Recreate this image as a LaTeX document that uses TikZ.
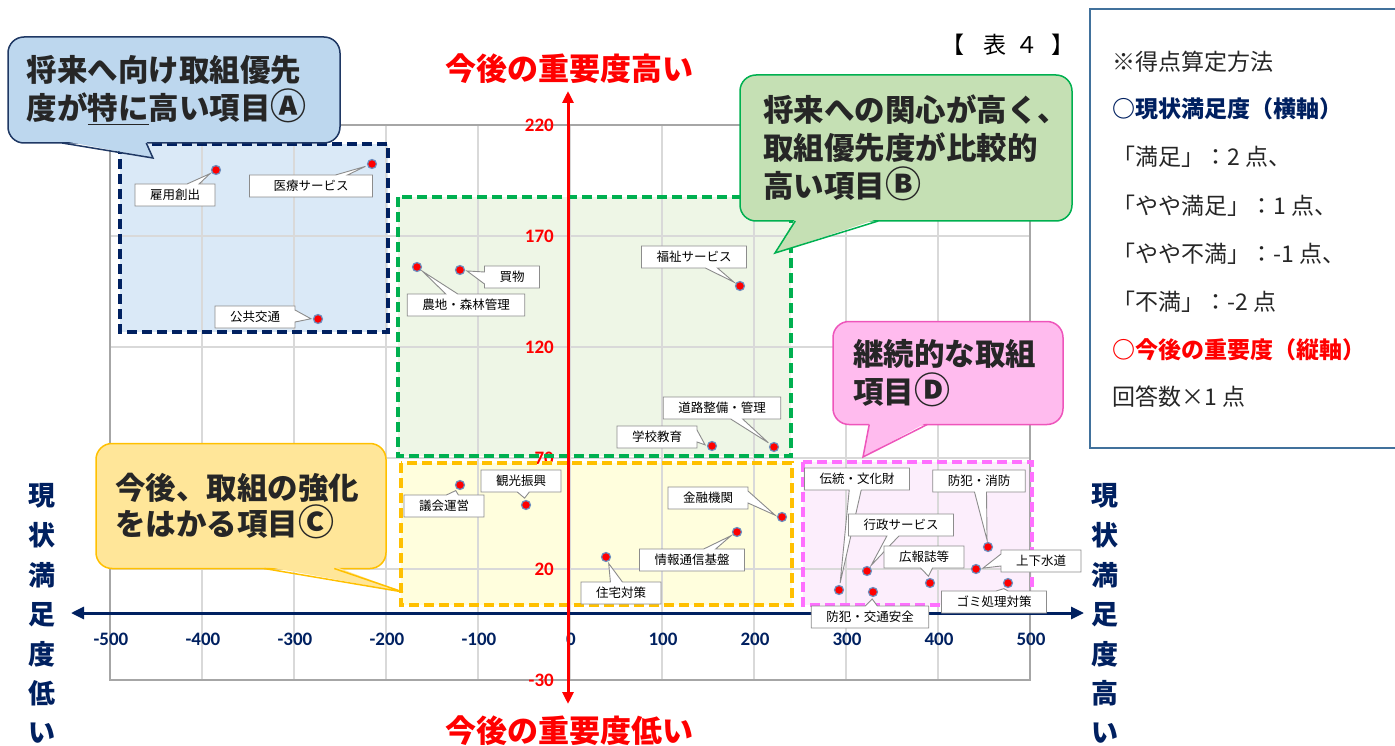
\documentclass[tikz,border=0pt]{standalone}
\usepackage{fontspec}
\setmainfont{Noto Sans CJK JP}
\newfontfamily\numfont{Carlito}
\usetikzlibrary{arrows.meta,shapes.callouts}
\definecolor{navy}{HTML}{002060}
\definecolor{txtdark}{HTML}{262626}
\definecolor{gridgray}{HTML}{D9D9D9}
\definecolor{framegray}{HTML}{A6A6A6}
\definecolor{lblgray}{HTML}{8C8C8C}
\definecolor{dotedge}{HTML}{6C8EBF}
\definecolor{legendline}{HTML}{41719C}
\definecolor{zoneAfill}{HTML}{DAE9F7}
\definecolor{zoneBfill}{HTML}{EEF6E6}
\definecolor{zoneCfill}{HTML}{FFFEDD}
\definecolor{zoneDfill}{HTML}{FCEEFC}
\definecolor{zoneBline}{HTML}{00B050}
\definecolor{zoneCline}{HTML}{FFC000}
\definecolor{zoneDline}{HTML}{FF6FFF}
\definecolor{bubAfill}{HTML}{BDD7EE}
\definecolor{bubAline}{HTML}{1F3864}
\definecolor{bubBfill}{HTML}{C5E0B4}
\definecolor{bubBline}{HTML}{00B050}
\definecolor{bubCfill}{HTML}{FFE699}
\definecolor{bubCline}{HTML}{FFC000}
\definecolor{bubDfill}{HTML}{FFBBEE}
\definecolor{bubDline}{HTML}{EE55BB}
\tikzset{
  zone/.style={line width=3.5pt, dash pattern=on 10pt off 5pt},
  gridline/.style={draw=gridgray, line width=1.3pt},
  xtick/.style={font=\numfont\bfseries\fontsize{19}{19}\selectfont, text=navy, inner sep=0pt},
  ytick/.style={font=\numfont\bfseries\fontsize{19}{19}\selectfont, text=red, inner sep=0pt, anchor=east},
  dot/.style={circle, fill=red, draw=dotedge, line width=1.2pt, inner sep=0pt, minimum size=9pt},
  lbl/.style={rectangle callout, draw=lblgray, fill=white, line width=0.9pt,
    font=\fontsize{12.5}{13}\selectfont, inner xsep=15pt, minimum height=22pt,
    callout pointer width=12pt, callout pointer shorten=7pt},
  bubble/.style={rectangle, rounded corners=16pt, line width=1.5pt, align=left,
    font=\bfseries\fontsize{30.5}{38}\selectfont, text=txtdark},
  ttl/.style={font=\bfseries\fontsize{31}{31}\selectfont, text=red},
  side/.style={font=\bfseries\fontsize{27}{27}\selectfont, text=navy, inner sep=0pt},
  legend/.style={anchor=west, inner sep=0pt, font=\fontsize{23}{23}\selectfont, text=txtdark}
}
% circled letter a little larger
\newcommand{\enc}[1]{\scalebox{1.18}{#1}}
% tail of a speech bubble: node, colour prefix, left and right offset, tip
\newcommand{\calltail}[5]{%
  \fill[#2fill] ([xshift=#3,yshift=3pt]#1.south west) -- #5 -- ([xshift=#4,yshift=3pt]#1.south west) -- cycle;
  \draw[#2line, line width=1.5pt, line join=miter] ([xshift=#3,yshift=0.75pt]#1.south west) -- #5 -- ([xshift=#4,yshift=0.75pt]#1.south west);}
\begin{document}
\begin{tikzpicture}[x=1pt,y=-1pt]
\useasboundingbox (0,0) rectangle (1395,746);
% zones
\fill[zoneAfill] (120,144) rectangle (388,332);
\fill[zoneBfill] (398,197) rectangle (791,456);
\fill[zoneCfill] (401,463) rectangle (792,605);
\fill[zoneDfill] (803,462) rectangle (1032,605);
% grid
\foreach \x in {110,202,...,1030} \draw[gridline] (\x,125) -- (\x,680);
\foreach \y in {125,236,...,680} \draw[gridline] (110,\y) -- (1030,\y);
\draw[framegray, line width=1.5pt] (110,125) rectangle (1030,680);
% tick labels
\foreach \v [count=\i from 0] in {-500,-400,...,500} \node[xtick] (xt\i) at ({111+92*\i},639) {\v};
\node[ytick] (yt1) at (554,125) {220};
\node[ytick] (yt2) at (554,236) {170};
\node[ytick] (yt3) at (554,347) {120};
\node[ytick] (yt4) at (554,458) {70};
\node[ytick] (yt5) at (554,569) {20};
\node[ytick] (yt6) at (554,680) {-30};
% zone borders
\draw[zone, navy] (120,144) rectangle (388,332);
\draw[zone, zoneBline] (398,197) rectangle (791,456);
\draw[zone, zoneCline] (401,463) rectangle (792,605);
\draw[zone, zoneDline] (803,462) rectangle (1032,605);
% axes
\coordinate (xl) at (71,613);
\coordinate (xr) at (1084,613);
\coordinate (yb) at (568,704);
\coordinate (yt) at (568,91);
\draw[navy, line width=3pt, {Triangle[length=13pt,width=12pt]}-{Triangle[length=13pt,width=12pt]}] (xl) -- (xr);
\draw[red, line width=3pt, {Triangle[length=12pt,width=11pt]}-{Triangle[length=12pt,width=11pt]}] (yb) -- (yt);
\node[ttl] (ttop) at (569,69) {今後の重要度高い};
\node[ttl] (tbot) at (569,731) {今後の重要度低い};
\foreach \ch [count=\i from 0] in {現,状,満,足,度,低,い} \node[side] (sl\i) at (42,{496+39.5*\i}) {\ch};
\foreach \ch [count=\i from 0] in {現,状,満,足,度,高,い} \node[side] (sr\i) at (1105,{496+39.5*\i}) {\ch};
% points
\node[dot] (pt1) at (216,170) {};
\node[dot] (pt2) at (372,164) {};
\node[dot] (pt3) at (318,319) {};
\node[dot] (pt4) at (417,267) {};
\node[dot] (pt5) at (460,270) {};
\node[dot] (pt6) at (740,286) {};
\node[dot] (pt7) at (774,447) {};
\node[dot] (pt8) at (712,446) {};
\node[dot] (pt9) at (460,485) {};
\node[dot] (pt10) at (526,505) {};
\node[dot] (pt11) at (782,517) {};
\node[dot] (pt12) at (737,532) {};
\node[dot] (pt13) at (606,557) {};
\node[dot] (pt14) at (839,590) {};
\node[dot] (pt15) at (867,571) {};
\node[dot] (pt16) at (930,583) {};
\node[dot] (pt17) at (988,547) {};
\node[dot] (pt18) at (976,569) {};
\node[dot] (pt19) at (1008,583) {};
\node[dot] (pt20) at (873,592) {};
% labels
\node[lbl, callout absolute pointer={(pt1.center)}] (lb1) at (175,195) {雇用創出};
\node[lbl, inner xsep=24pt, callout absolute pointer={(pt2.center)}] (lb2) at (311,186) {医療サービス};
\node[lbl, callout absolute pointer={(pt3.center)}] (lb3) at (255,317) {公共交通};
\node[lbl, callout absolute pointer={(pt4.center)}] (lb4) at (466,305) {農地・森林管理};
\node[lbl, callout absolute pointer={(pt5.center)}] (lb5) at (512,277) {買物};
\node[lbl, callout absolute pointer={(pt6.center)}] (lb6) at (694,257) {福祉サービス};
\node[lbl, callout absolute pointer={(pt7.center)}] (lb7) at (722,408) {道路整備・管理};
\node[lbl, callout absolute pointer={(pt8.center)}] (lb8) at (657,437) {学校教育};
\node[lbl, callout absolute pointer={(pt9.center)}] (lb9) at (444,506) {議会運営};
\node[lbl, callout absolute pointer={(pt10.center)}] (lb10) at (521,481) {観光振興};
\node[lbl, callout absolute pointer={(pt11.center)}] (lb11) at (708,498) {金融機関};
\node[lbl, callout absolute pointer={(pt12.center)}] (lb12) at (692,560) {情報通信基盤};
\node[lbl, callout absolute pointer={(pt13.center)}] (lb13) at (621,593) {住宅対策};
\node[lbl, callout absolute pointer={(pt14.center)}] (lb14) at (857,479) {伝統・文化財};
\node[lbl, callout absolute pointer={(pt15.center)}] (lb15) at (901,525) {行政サービス};
\node[lbl, callout absolute pointer={(pt16.center)}] (lb16) at (924,557) {広報誌等};
\node[lbl, callout absolute pointer={(pt17.center)}] (lb17) at (979,481) {防犯・消防};
\node[lbl, callout absolute pointer={(pt18.center)}] (lb18) at (1041,561) {上下水道};
\node[lbl, callout absolute pointer={(pt19.center)}] (lb19) at (994,602) {ゴミ処理対策};
\node[lbl, callout absolute pointer={(pt20.center)}] (lb20) at (870,617) {防犯・交通安全};
% speech bubbles
\node[bubble, fill=bubAfill, draw=bubAline, minimum width=332pt, minimum height=106pt, text width=294pt] (calA) at (174,90) {将来へ向け取組優先\\度が\underline{特に}高い項目\enc{Ⓐ}};
\calltail{calA}{bubA}{55pt}{139pt}{(153,158)}
\node[bubble, fill=bubBfill, draw=bubBline, minimum width=332pt, minimum height=146pt, text width=286pt] (calB) at (906,148) {将来への関心が高く、\\取組優先度が比較的\\高い項目\enc{Ⓑ}};
\calltail{calB}{bubB}{56pt}{139pt}{(775,253)}
\node[bubble, fill=bubCfill, draw=bubCline, minimum width=290pt, minimum height=125pt, text width=252pt, font=\bfseries\fontsize{30.5}{36}\selectfont] (calC) at (241,506) {今後、取組の強化\\をはかる項目\enc{Ⓒ}};
\calltail{calC}{bubC}{169pt}{239pt}{(403,592)}
\node[bubble, fill=bubDfill, draw=bubDline, minimum width=230pt, minimum height=103pt, text width=190pt] (calD) at (948,373) {継続的な取組\\項目\enc{Ⓓ}};
\calltail{calD}{bubD}{37pt}{95pt}{(863,457)}
% legend
\node[anchor=west, inner sep=0pt, font=\fontsize{23}{23}\selectfont, text=black] (tbl) at (941,45) {【\hspace{19pt}表\hspace{9pt}４\hspace{13pt}】};
\draw[legendline, line width=2pt] (1090,9) rectangle (1402,448);
\node[legend] (lg1) at (1112,62) {※得点算定方法};
\node[legend, text=navy, font=\bfseries\fontsize{23}{23}\selectfont] (lg2) at (1112,109) {○現状満足度（横軸）};
\node[legend] (lg3) at (1112,157) {「満足」：2 点、};
\node[legend] (lg4) at (1112,206) {「やや満足」：1 点、};
\node[legend] (lg5) at (1112,254) {「やや不満」：-1 点、};
\node[legend] (lg6) at (1112,302) {「不満」：-2 点};
\node[legend, text=red, font=\bfseries\fontsize{23}{23}\selectfont] (lg7) at (1112,350) {○今後の重要度（縦軸）};
\node[legend] (lg8) at (1112,397) {回答数×1 点};
\end{tikzpicture}
\end{document}
